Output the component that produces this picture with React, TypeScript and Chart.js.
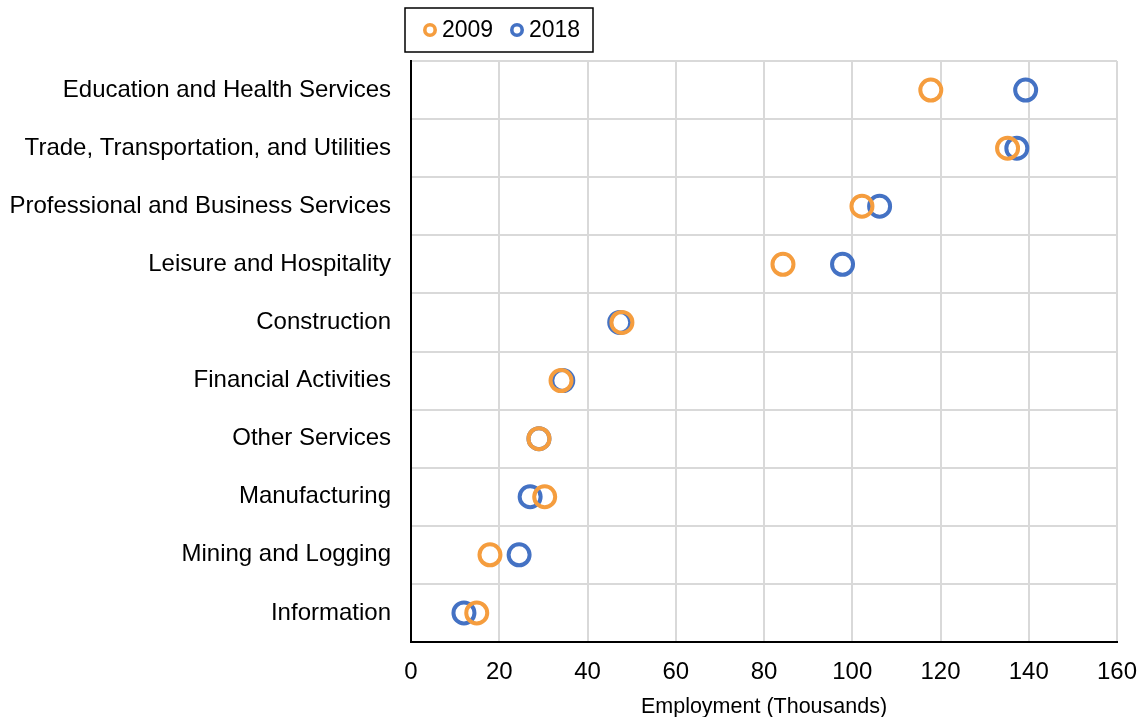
import React, { useEffect, useRef } from "react";
import { Chart, registerables } from "chart.js";

Chart.register(...registerables);

const categories = [
  "Education and Health Services",
  "Trade, Transportation, and Utilities",
  "Professional and Business Services",
  "Leisure and Hospitality",
  "Construction",
  "Financial Activities",
  "Other Services",
  "Manufacturing",
  "Mining and Logging",
  "Information",
];

const values2009 = [117.8, 135.2, 102.2, 84.3, 47.8, 34.0, 29.0, 30.3, 17.9, 14.9];
const values2018 = [139.3, 137.3, 106.2, 97.8, 47.3, 34.4, 29.0, 27.0, 24.5, 12.0];

const seriesLabels = ["2009", "2018"];
const seriesColors = ["#F59D3E", "#4472C4"];

const FONT = "Arial, 'Liberation Sans', sans-serif";

const legendPlugin = {
  id: "boxLegend",
  afterDraw(chart: any) {
    const ctx = chart.ctx;
    const x0 = 405;
    const y0 = 8;
    const w = 188;
    const h = 44;
    ctx.save();
    ctx.fillStyle = "#ffffff";
    ctx.fillRect(x0, y0, w, h);
    ctx.strokeStyle = "#000000";
    ctx.lineWidth = 1.5;
    ctx.strokeRect(x0, y0, w, h);
    ctx.font = `23px ${FONT}`;
    ctx.textBaseline = "middle";
    ctx.textAlign = "left";
    const cy = y0 + h / 2;
    let x = x0 + 25;
    seriesLabels.forEach((lab, i) => {
      ctx.beginPath();
      ctx.arc(x, cy, 5.2, 0, Math.PI * 2);
      ctx.strokeStyle = seriesColors[i];
      ctx.lineWidth = 3.6;
      ctx.stroke();
      ctx.fillStyle = "#000000";
      ctx.fillText(lab, x + 12, cy + 1);
      x += 87;
    });
    ctx.restore();
  },
};

export default function App() {
  const ref = useRef<HTMLCanvasElement | null>(null);

  useEffect(() => {
    if (!ref.current) return;
    const chart = new Chart(ref.current, {
      type: "line",
      data: {
        labels: categories,
        datasets: seriesLabels.map((lab, i) => ({
          label: lab,
          data: i === 0 ? values2009 : values2018,
          showLine: false,
          borderColor: seriesColors[i],
          backgroundColor: "rgba(0,0,0,0)",
          pointRadius: 10.5,
          pointBorderWidth: 4,
          pointBackgroundColor: "rgba(0,0,0,0)",
          pointBorderColor: seriesColors[i],
        })),
      },
      options: {
        indexAxis: "y",
        animation: false,
        responsive: false,
        maintainAspectRatio: false,
        layout: { padding: { top: 61, right: 0, left: 0, bottom: 0 } },
        plugins: {
          legend: { display: false },
          tooltip: { enabled: false },
        },
        scales: {
          x: {
            type: "linear",
            min: 0,
            max: 160,
            ticks: {
              stepSize: 20,
              color: "#000000",
              font: { family: FONT, size: 24 },
              padding: 16,
            },
            grid: { color: "#d9d9d9", lineWidth: 2, drawTicks: false },
            border: { color: "#000000", width: 2 },
            title: {
              display: true,
              text: "Employment (Thousands)",
              color: "#000000",
              font: { family: FONT, size: 21.5 },
              padding: { top: 2, bottom: -2.5 },
            },
            afterFit(scale: any) {
              scale.height = 75;
              scale.paddingRight = 23;
              scale.paddingLeft = 0;
            },
          },
          y: {
            type: "category",
            offset: true,
            ticks: {
              color: "#000000",
              font: { family: FONT, size: 24 },
              padding: 20,
            },
            grid: { color: "#d9d9d9", lineWidth: 2, drawTicks: false, offset: true },
            border: { color: "#000000", width: 2 },
            afterFit(scale: any) {
              scale.width = 411;
            },
          },
        },
      },
      plugins: [legendPlugin],
    });
    return () => chart.destroy();
  }, []);

  return (
    <div style={{ position: "absolute", left: 0, top: 0, width: 1140, height: 717, background: "#fff" }}>
      <canvas ref={ref} width={1140} height={717} style={{ width: 1140, height: 717 }} />
    </div>
  );
}
